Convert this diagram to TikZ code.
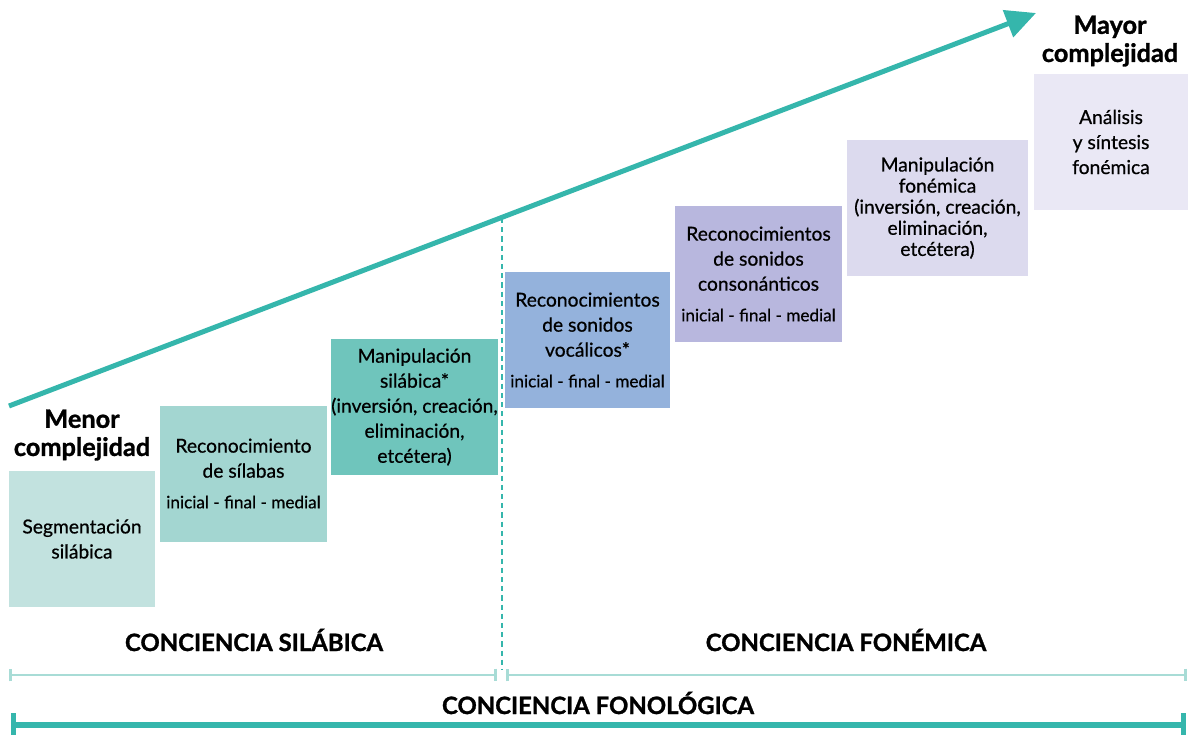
\documentclass[tikz,border=0pt]{standalone}
\usepackage{fontspec}
\setmainfont{Lato}[UprightFeatures={FakeBold=0.6}, BoldFeatures={FakeBold=1.2}]
\usetikzlibrary{arrows.meta}

\definecolor{teala}{HTML}{35B6AC}
\definecolor{teallight}{HTML}{A8DCD6}
\definecolor{boxa}{HTML}{C2E2DF}
\definecolor{boxb}{HTML}{A3D6D1}
\definecolor{boxc}{HTML}{6FC5BC}
\definecolor{boxd}{HTML}{94B2DC}
\definecolor{boxe}{HTML}{B8B7DE}
\definecolor{boxf}{HTML}{DCDAEE}
\definecolor{boxg}{HTML}{EAE8F5}

\newcommand{\posic}{{\fontsize{12.2}{14}\selectfont inicial - final - medial}}

\begin{document}
\begin{tikzpicture}[x=0.025cm, y=-0.025cm,
    stepbox/.style={inner sep=0pt, align=center, minimum height=136*0.025cm,
      font=\fontsize{13.7}{17.8}\selectfont},
    levellabel/.style={align=center, font=\bfseries\fontsize{18}{20}\selectfont},
    bandlabel/.style={font=\bfseries\fontsize{17}{18}\selectfont},
    trend/.style={line width=5*0.025cm, teala, -{Triangle[length=0.75cm, width=0.7cm]}},
    divider/.style={teala, line width=0.04cm, dash pattern=on 0.13cm off 0.1cm},
    span/.style={teallight, line width=0.07cm, {Bar[width=0.32cm]}-{Bar[width=0.32cm]}},
    fullspan/.style={teala, line width=0.13cm, {Bar[width=0.6cm]}-{Bar[width=0.6cm]}}]

  \useasboundingbox (0,0) rectangle (1195,735);

  % escalones
  \node[stepbox, fill=boxa, minimum width=146*0.025cm] (segm) at (82,539) {Segmentación\\silábica};
  \node[stepbox, fill=boxb, minimum width=167*0.025cm] (recsil) at (243.5,473.5) {Reconocimiento\\de sílabas\\[4pt]\posic};
  \node[stepbox, fill=boxc, minimum width=167*0.025cm] (mansil) at (414.5,407) {Manipulación\\silábica*\\(inversión, creación,\\eliminación,\\etcétera)};
  \node[stepbox, fill=boxd, minimum width=165*0.025cm] (recvoc) at (587.5,340) {Reconocimientos\\de sonidos\\vocálicos*\\[4pt]\posic};
  \node[stepbox, fill=boxe, minimum width=167*0.025cm] (reccons) at (758.5,274) {Reconocimientos\\de sonidos\\consonánticos\\[4pt]\posic};
  \node[stepbox, fill=boxf, minimum width=181*0.025cm, font=\fontsize{13.7}{15}\selectfont] (manfon) at (937.5,208) {Manipulación\\fonémica\\(inversión, creación,\\eliminación,\\etcétera)};
  \node[stepbox, fill=boxg, minimum width=154*0.025cm] (analisis) at (1111,142) {Análisis\\y síntesis\\fonémica};

  % flecha de complejidad
  \coordinate (low) at (9,406);
  \coordinate (high) at (1036,13);
  \draw[trend] (low) -- (high);
  \node[levellabel] (menor) at (82,435) {Menor\\complejidad};
  \node[levellabel] (mayor) at (1110,41) {Mayor\\complejidad};

  % division
  \coordinate (divtop) at (502,218);
  \coordinate (divbot) at (502,670);
  \draw[divider] (divtop) -- (divbot);

  \node[bandlabel] (silabica) at (254,640) {CONCIENCIA SILÁBICA};
  \node[bandlabel] (fonemica) at (846,640) {CONCIENCIA FONÉMICA};
  \node[bandlabel] (fonologica) at (598,703) {CONCIENCIA FONOLÓGICA};

  \draw[span] (9,675) -- (497,675);
  \draw[span] (506,675) -- (1187,675);
  \draw[fullspan] (11,725) -- (1186,725);

\end{tikzpicture}
\end{document}
